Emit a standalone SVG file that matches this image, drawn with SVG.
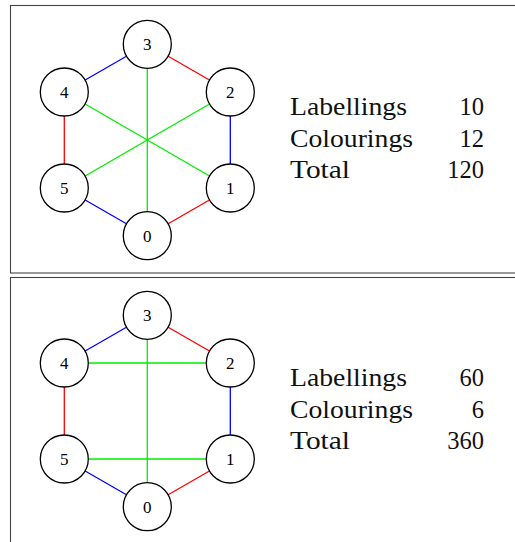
<svg xmlns="http://www.w3.org/2000/svg" width="515" height="542" viewBox="0 0 515 542">
<style>
.panel{fill:#fff;stroke:#444;stroke-width:1.1}
.node circle{fill:#fff;stroke:#000;stroke-width:1.3}
.node text{font-family:"Liberation Serif",serif;font-size:17px;text-anchor:middle;fill:#000}
.e{stroke-width:1.3;fill:none}
.r{stroke:#ff0000}.b{stroke:#0000ff}.g{stroke:#00ee00}
.lbl{font-family:"Liberation Serif",serif;font-size:24.5px;fill:#111}
.num{font-family:"Liberation Serif",serif;font-size:24.5px;fill:#111;text-anchor:end}
</style>
<rect class="panel" x="10.5" y="5.5" width="520" height="267.5"/>
<rect class="panel" x="10.5" y="277.5" width="520" height="280"/>

<g id="connectors">
  <line class="e b" x1="147.3" y1="44.3" x2="64.3" y2="92"/>
  <line class="e r" x1="147.3" y1="44.3" x2="230.3" y2="92"/>
  <line class="e b" x1="230.3" y1="92" x2="230.3" y2="188"/>
  <line class="e r" x1="230.3" y1="188" x2="147.3" y2="235.7"/>
  <line class="e b" x1="147.3" y1="235.7" x2="64.3" y2="188"/>
  <line class="e r" x1="64.3" y1="188" x2="64.3" y2="92"/>
  <line class="e g" x1="147.3" y1="44.3" x2="147.3" y2="235.7"/>
  <line class="e g" x1="64.3" y1="92" x2="230.3" y2="188"/>
  <line class="e g" x1="230.3" y1="92" x2="64.3" y2="188"/>
  <line class="e b" x1="147.3" y1="315.3" x2="64.3" y2="363"/>
  <line class="e r" x1="147.3" y1="315.3" x2="230.3" y2="363"/>
  <line class="e b" x1="230.3" y1="363" x2="230.3" y2="459"/>
  <line class="e r" x1="230.3" y1="459" x2="147.3" y2="506.7"/>
  <line class="e b" x1="147.3" y1="506.7" x2="64.3" y2="459"/>
  <line class="e r" x1="64.3" y1="459" x2="64.3" y2="363"/>
  <line class="e g" x1="147.3" y1="315.3" x2="147.3" y2="506.7"/>
  <line class="e g" x1="64.3" y1="363" x2="230.3" y2="363"/>
  <line class="e g" x1="64.3" y1="459" x2="230.3" y2="459"/>
</g>

<g id="p1n3" class="node"><circle cx="147.3" cy="44.3" r="24"/><text x="147.3" y="50.3">3</text></g>
<g id="p1n2" class="node"><circle cx="230.3" cy="92" r="24"/><text x="230.3" y="98">2</text></g>
<g id="p1n1" class="node"><circle cx="230.3" cy="188" r="24"/><text x="230.3" y="194">1</text></g>
<g id="p1n0" class="node"><circle cx="147.3" cy="235.7" r="24"/><text x="147.3" y="241.7">0</text></g>
<g id="p1n5" class="node"><circle cx="64.3" cy="188" r="24"/><text x="64.3" y="194">5</text></g>
<g id="p1n4" class="node"><circle cx="64.3" cy="92" r="24"/><text x="64.3" y="98">4</text></g>

<g id="p2n3" class="node"><circle cx="147.3" cy="315.3" r="24"/><text x="147.3" y="321.3">3</text></g>
<g id="p2n2" class="node"><circle cx="230.3" cy="363" r="24"/><text x="230.3" y="369">2</text></g>
<g id="p2n1" class="node"><circle cx="230.3" cy="459" r="24"/><text x="230.3" y="465">1</text></g>
<g id="p2n0" class="node"><circle cx="147.3" cy="506.7" r="24"/><text x="147.3" y="512.7">0</text></g>
<g id="p2n5" class="node"><circle cx="64.3" cy="459" r="24"/><text x="64.3" y="465">5</text></g>
<g id="p2n4" class="node"><circle cx="64.3" cy="363" r="24"/><text x="64.3" y="369">4</text></g>

<g id="table1">
  <text class="lbl" x="290" y="115" textLength="117" lengthAdjust="spacingAndGlyphs">Labellings</text>
  <text class="lbl" x="290" y="146.5" textLength="123" lengthAdjust="spacingAndGlyphs">Colourings</text>
  <text class="lbl" x="290" y="178" textLength="60" lengthAdjust="spacingAndGlyphs">Total</text>
  <text class="num" x="484" y="115">10</text>
  <text class="num" x="484" y="146.5">12</text>
  <text class="num" x="484" y="178">120</text>
</g>
<g id="table2">
  <text class="lbl" x="290" y="386" textLength="117" lengthAdjust="spacingAndGlyphs">Labellings</text>
  <text class="lbl" x="290" y="417.5" textLength="123" lengthAdjust="spacingAndGlyphs">Colourings</text>
  <text class="lbl" x="290" y="449" textLength="60" lengthAdjust="spacingAndGlyphs">Total</text>
  <text class="num" x="484" y="386">60</text>
  <text class="num" x="484" y="417.5">6</text>
  <text class="num" x="484" y="449">360</text>
</g>
</svg>
